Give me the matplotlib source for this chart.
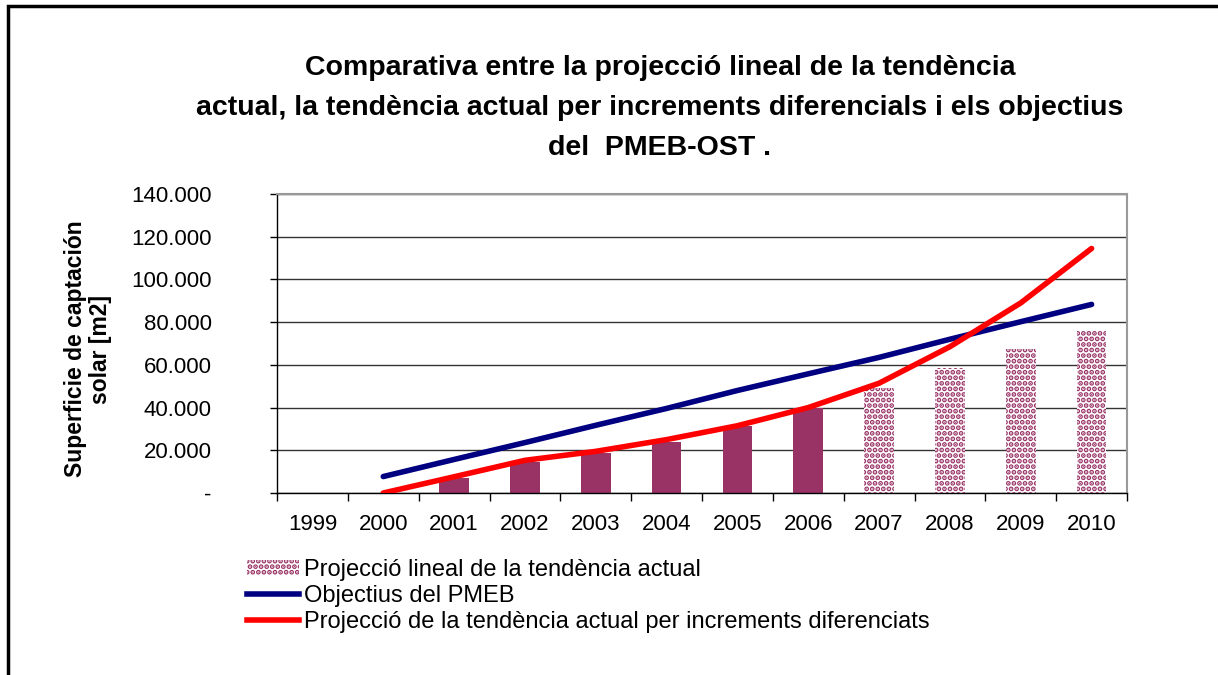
import matplotlib.pyplot as plt
import matplotlib.patches as mpatches
from matplotlib.lines import Line2D
from matplotlib.ticker import FuncFormatter, MultipleLocator

plt.rcParams['font.family'] = ['Liberation Sans', 'DejaVu Sans']
plt.rcParams['hatch.linewidth'] = 2.5

years = ['1999', '2000', '2001', '2002', '2003', '2004', '2005', '2006', '2007', '2008', '2009', '2010']
actual = [0, 0, 7200, 14700, 18900, 24100, 31600, 39800, None, None, None, None]
projeccio_lineal = [None, None, None, None, None, None, None, None, 49200, 58600, 67200, 76500]
objectius_pmeb = [None, 7700, 15700, 23600, 31700, 39600, 48000, 55800, 63500, 72000, 80200, 88300]
projeccio_diferencial = [None, 0, 7600, 15300, 19500, 25000, 31500, 40000, 51400, 68500, 89000, 114500]

purple = '#993366'

fig = plt.figure(figsize=(12.18, 6.75), dpi=100)
ax = fig.add_axes([277 / 1218, 1 - 493 / 675, (1127 - 277) / 1218, (493 - 194) / 675])

x = list(range(len(years)))
w = 0.42

xa = [i for i, v in zip(x, actual) if v]
va = [v for v in actual if v]
ax.bar(xa, va, width=w, color=purple, zorder=2, label='_nolegend_')

xp = [i for i, v in zip(x, projeccio_lineal) if v is not None]
vp = [v for v in projeccio_lineal if v is not None]
ax.bar(xp, vp, width=w, facecolor='white', edgecolor=purple, hatch='...', linewidth=0, zorder=2)

xo = [i for i, v in zip(x, objectius_pmeb) if v is not None]
vo = [v for v in objectius_pmeb if v is not None]
ax.plot(xo, vo, color='#000080', lw=4, solid_capstyle='round', zorder=3)

xd = [i for i, v in zip(x, projeccio_diferencial) if v is not None]
vd = [v for v in projeccio_diferencial if v is not None]
ax.plot(xd, vd, color='#ff0000', lw=4, solid_capstyle='round', zorder=3)

ax.set_xlim(-0.5, len(years) - 0.5)
ax.set_ylim(0, 140000)
ax.yaxis.set_major_locator(MultipleLocator(20000))
ax.yaxis.set_major_formatter(FuncFormatter(
    lambda v, p: '-' if v == 0 else f'{int(v):,}'.replace(',', '.')))
ax.set_xticks(x)
ax.set_xticklabels(years)
ax.set_xticks([i - 0.5 for i in range(len(years) + 1)], minor=True)
ax.tick_params(axis='x', which='major', length=0, pad=15, labelsize=16)
ax.tick_params(axis='x', which='minor', length=6, width=1, direction='out')
ax.tick_params(axis='y', length=5, width=1, direction='out', pad=42, labelsize=16)
ax.grid(axis='y', color='#333333', lw=1, zorder=0)

for s in ['top', 'right']:
    ax.spines[s].set_color('#999999')
    ax.spines[s].set_linewidth(1.5)
for s in ['left', 'bottom']:
    ax.spines[s].set_color('black')
    ax.spines[s].set_linewidth(1)

fig.text(88 / 1218, 1 - 349 / 675, 'Superficie de captación\nsolar [m2]', rotation=90,
         ha='center', va='center', fontsize=16.5, fontweight='bold', linespacing=1.1)

title_lines = [
    'Comparativa entre la projecció lineal de la tendència',
    'actual, la tendència actual per increments diferencials i els objectius',
    'del  PMEB-OST .',
]
for i, line in enumerate(title_lines):
    fig.text(660 / 1218, 1 - (68 + 40 * i) / 675, line, ha='center', va='center',
             fontsize=20.5, fontweight='bold')

handles = [
    mpatches.Patch(facecolor='white', edgecolor=purple, hatch='...', linewidth=0),
    Line2D([], [], color='#000080', lw=4),
    Line2D([], [], color='#ff0000', lw=4),
]
labels = [
    'Projecció lineal de la tendència actual',
    'Objectius del PMEB',
    'Projecció de la tendència actual per increments diferenciats',
]
fig.legend(handles, labels, loc='upper left', bbox_to_anchor=(247 / 1218, 1 - 559 / 675),
           frameon=False, fontsize=17, handlelength=2.2, handleheight=0.6,
           handletextpad=0.2, labelspacing=0.17, borderaxespad=0, borderpad=0)

fig.add_artist(mpatches.Rectangle((8 / 1218, -0.1), 1.2, 1 - 6 / 675 + 0.1,
                                  transform=fig.transFigure, fill=False,
                                  edgecolor='black', lw=2.5))

fig.savefig('out.png', dpi=100)
